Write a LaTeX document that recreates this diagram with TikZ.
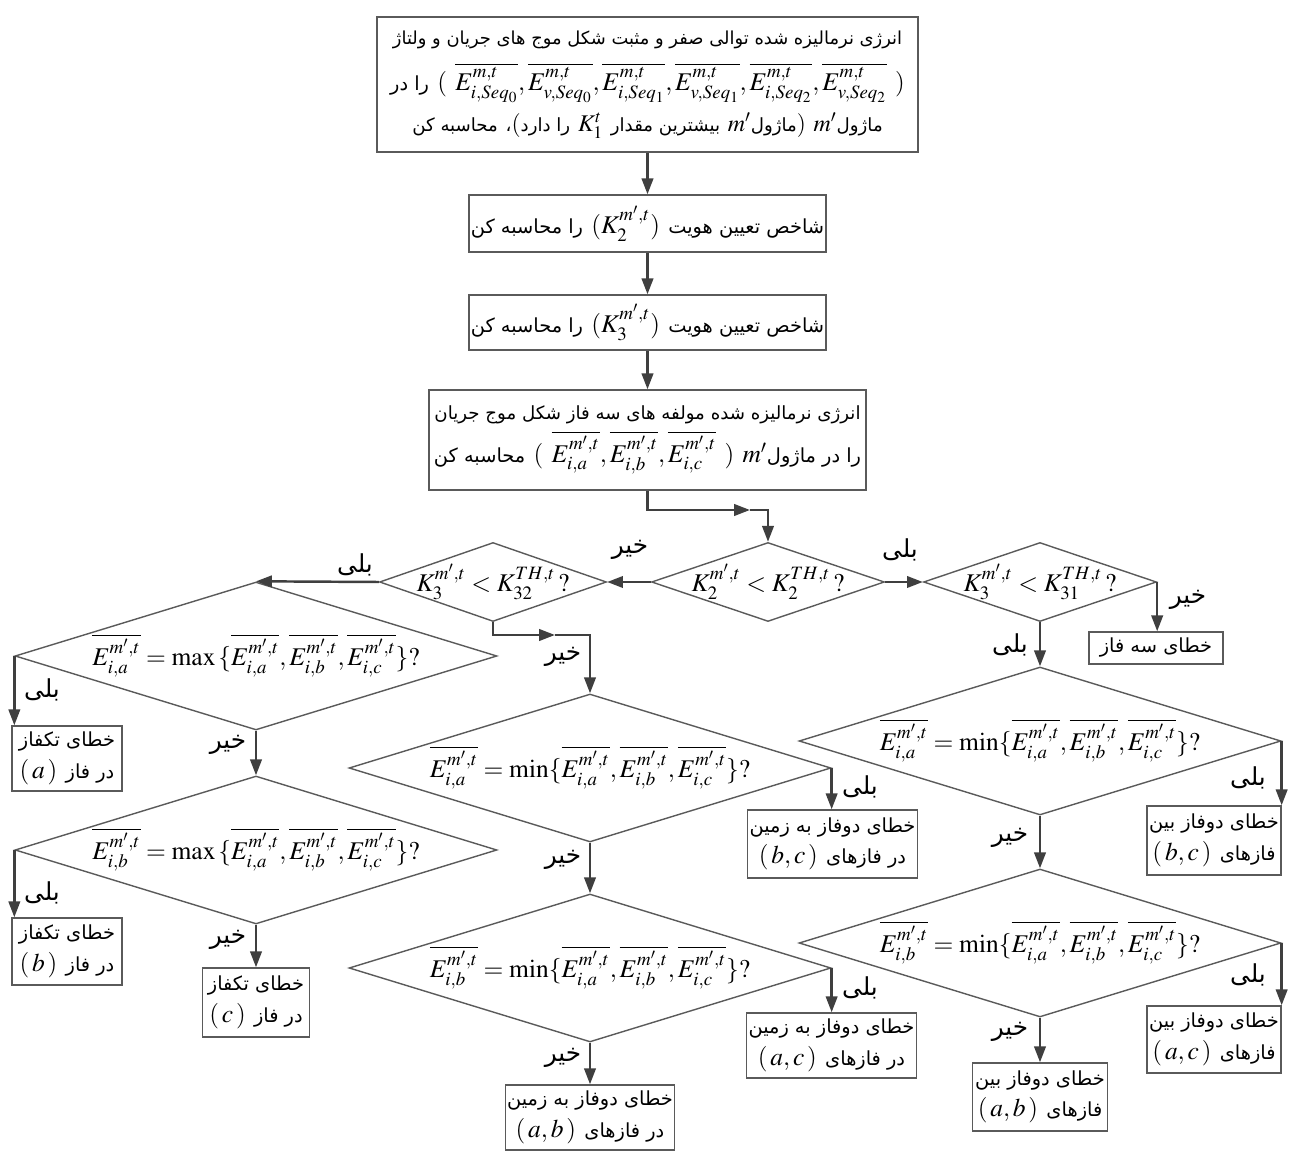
\documentclass[tikz,border=0pt]{standalone}
\usepackage{mathptmx}
\usepackage{fontspec}
\usetikzlibrary{arrows.meta, positioning, shapes.geometric}
\TeXXeTstate=1
\newfontfamily\farsi[Script=Arabic,Scale=0.76]{DejaVu Sans}
\newcommand{\fatext}[1]{{\farsi\beginR #1\endR}}
\newcommand{\Ebar}[1]{\overline{E^{m',t}_{i,#1}}}
\newcommand{\Eseq}[2]{\overline{E^{m,t}_{#1,Seq_{#2}}}}
\definecolor{boxgray}{HTML}{5A5A5A}
\definecolor{flowgray}{HTML}{3F3F3F}

\tikzset{
  procbox/.style={draw=boxgray, line width=0.8pt, align=center, inner xsep=1pt, inner ysep=2pt},
  decision/.style={diamond, draw=boxgray, line width=0.8pt, inner sep=0pt},
  smalldec/.style={decision, minimum width=4.66cm, minimum height=1.58cm},
  bigdec/.style={decision, minimum width=9.64cm, minimum height=2.96cm},
  flow/.style={draw=flowgray, line width=1.4pt, -{Triangle[length=9pt,width=6.5pt]}},
  answer/.style={inner sep=0pt, font=\fontsize{18.5}{20}\selectfont}
}

\begin{document}
\begin{tikzpicture}[x=0.02cm, y=-0.02cm, font=\fontsize{14.5}{16}\selectfont]
  \useasboundingbox (0,0) rectangle (1309,1151);

  % processing steps
  \node[procbox, minimum width=10.82cm, minimum height=2.70cm] (energy) at (647.5,84.5)
    {{\fontsize{13.4}{15}\selectfont\fatext{انرژی نرمالیزه شده توالی صفر و مثبت شکل موج های جریان و ولتاژ}}\\[7pt]
     \fatext{را در} ( $\Eseq{i}{0},\Eseq{v}{0},\Eseq{i}{1},\Eseq{v}{1},\Eseq{i}{2},\Eseq{v}{2}$ )\\[5pt]
     {\fontsize{13.6}{15}\selectfont\fatext{محاسبه کن} \fatext{،}(\fatext{را دارد} $K_1^t$ \fatext{بیشترین مقدار} $m'$\fatext{ماژول}) $m'$\fatext{ماژول}}};
  \node[procbox, minimum width=7.14cm, minimum height=1.14cm] (idxtwo) at (647.5,223.5)
    {\fatext{را محاسبه کن} ($K_2^{m',t}$) \fatext{شاخص تعیین هویت}};
  \node[procbox, minimum width=7.14cm, minimum height=1.10cm] (idxthree) at (647.5,322.5)
    {\fatext{را محاسبه کن} ($K_3^{m',t}$) \fatext{شاخص تعیین هویت}};
  \node[procbox, minimum width=8.74cm, minimum height=2.0cm] (phases) at (647.5,440)
    {{\fontsize{13.6}{15}\selectfont\fatext{انرژی نرمالیزه شده مولفه های سه فاز شکل موج جریان}}\\[3pt]
     \fatext{محاسبه کن} ( $\Ebar{a},\Ebar{b},\Ebar{c}$ ) $m'$\fatext{را در ماژول}};

  % threshold tests
  \node[smalldec, label=center:{$K_2^{m',t} < K_2^{TH,t}\,?$}] (k2test) at (768,582) {};
  \node[decision, minimum width=4.54cm, minimum height=1.58cm,
        label=center:{$K_3^{m',t} < K_{32}^{TH,t}\,?$}] (k32test) at (493,582) {};
  \node[smalldec, label=center:{$K_3^{m',t} < K_{31}^{TH,t}\,?$}] (k31test) at (1040,582) {};

  % phase comparisons
  \node[bigdec, label=center:{$\Ebar{a} = \max\,\{\Ebar{a},\Ebar{b},\Ebar{c}\}?$}] (maxa) at (256,656) {};
  \node[bigdec, label=center:{$\Ebar{b} = \max\,\{\Ebar{a},\Ebar{b},\Ebar{c}\}?$}] (maxb) at (256,850) {};
  \node[bigdec, label=center:{$\Ebar{a} = \min\{\Ebar{a},\Ebar{b},\Ebar{c}\}?$}] (mina) at (590,768) {};
  \node[bigdec, label=center:{$\Ebar{b} = \min\{\Ebar{a},\Ebar{b},\Ebar{c}\}?$}] (minb) at (590,968) {};
  \node[bigdec, label=center:{$\Ebar{a} = \min\{\Ebar{a},\Ebar{b},\Ebar{c}\}?$}] (minar) at (1040,741) {};
  \node[bigdec, label=center:{$\Ebar{b} = \min\{\Ebar{a},\Ebar{b},\Ebar{c}\}?$}] (minbr) at (1040,943) {};

  % fault types
  \node[procbox, minimum width=2.68cm, minimum height=0.64cm] (threeph) at (1156,648)
    {\fatext{خطای سه فاز}};
  \node[procbox, minimum width=2.2cm, minimum height=1.3cm] (slga) at (67,758.5)
    {\fatext{خطای تکفاز}\\[2pt] ($\,a\,$) \fatext{در فاز}};
  \node[procbox, minimum width=2.2cm, minimum height=1.34cm] (slgb) at (67,951.5)
    {\fatext{خطای تکفاز}\\[2pt] ($\,b\,$) \fatext{در فاز}};
  \node[procbox, minimum width=2.14cm, minimum height=1.38cm] (slgc) at (256,1002.5)
    {\fatext{خطای تکفاز}\\[2pt] ($\,c\,$) \fatext{در فاز}};
  \node[procbox, minimum width=3.3cm, minimum height=1.36cm] (llgbc) at (832.5,844)
    {\fatext{خطای دوفاز به زمین}\\[2pt] ($\,b,c\,$) \fatext{در فازهای}};
  \node[procbox, minimum width=3.34cm, minimum height=1.3cm] (llgac) at (831.5,1045.5)
    {\fatext{خطای دوفاز به زمین}\\[2pt] ($\,a,c\,$) \fatext{در فازهای}};
  \node[procbox, minimum width=3.34cm, minimum height=1.3cm] (llgab) at (590,1117.5)
    {\fatext{خطای دوفاز به زمین}\\[2pt] ($\,a,b\,$) \fatext{در فازهای}};
  \node[procbox, minimum width=2.68cm, minimum height=1.38cm] (llbc) at (1214,840.5)
    {\fatext{خطای دوفاز بین}\\[2pt] ($\,b,c\,$) \fatext{فازهای}};
  \node[procbox, minimum width=2.68cm, minimum height=1.34cm] (llac) at (1214,1039.5)
    {\fatext{خطای دوفاز بین}\\[2pt] ($\,a,c\,$) \fatext{فازهای}};
  \node[procbox, minimum width=2.7cm, minimum height=1.36cm] (llab) at (1040,1097)
    {\fatext{خطای دوفاز بین}\\[2pt] ($\,a,b\,$) \fatext{فازهای}};

  % connectors
  \draw[flow] (energy.south) -- (idxtwo.north);
  \draw[flow] (idxtwo.south) -- (idxthree.north);
  \draw[flow] (idxthree.south) -- (phases.north);
  \coordinate (turn1) at (750,510);
  \draw[flow] (phases.south) |- (turn1);
  \draw[flow] (turn1) -| (k2test.north);
  \draw[flow] (k2test.west) -- (k32test.east);
  \draw[flow] (k2test.east) -- (k31test.west);
  \draw[flow] (k32test.west) -- (maxa.north);
  \coordinate (turn2) at (555,635);
  \draw[flow] (k32test.south) |- (turn2);
  \draw[flow] (turn2) -| (mina.north);
  \draw[flow] (k31test.east) -- (k31test.east |- threeph.north);
  \draw[flow] (k31test.south) -- (minar.north);
  \draw[flow] (maxa.west) -- (maxa.west |- slga.north);
  \draw[flow] (maxa.south) -- (maxb.north);
  \draw[flow] (maxb.west) -- (maxb.west |- slgb.north);
  \draw[flow] (maxb.south) -- (slgc.north);
  \draw[flow] (mina.east) -- (mina.east |- llgbc.north);
  \draw[flow] (mina.south) -- (minb.north);
  \draw[flow] (minb.east) -- (minb.east |- llgac.north);
  \draw[flow] (minb.south) -- (llgab.north);
  \draw[flow] (minar.east) -- (minar.east |- llbc.north);
  \draw[flow] (minar.south) -- (minbr.north);
  \draw[flow] (minbr.east) -- (minbr.east |- llac.north);
  \draw[flow] (minbr.south) -- (llab.north);

  % yes / no labels
  \node[answer] (no1) at (630,550) {\fatext{خیر}};
  \node[answer] (yes1) at (900,550) {\fatext{بلی}};
  \node[answer] (yes2) at (355,565) {\fatext{بلی}};
  \node[answer] (no2) at (563,657) {\fatext{خیر}};
  \node[answer] (no3) at (1188,600) {\fatext{خیر}};
  \node[answer] (yes3) at (1010,645) {\fatext{بلی}};
  \node[answer] (yes4) at (42,690) {\fatext{بلی}};
  \node[answer] (no4) at (228,745) {\fatext{خیر}};
  \node[answer] (yes5) at (42,893) {\fatext{بلی}};
  \node[answer] (no5) at (228,940) {\fatext{خیر}};
  \node[answer] (yes6) at (860,787) {\fatext{بلی}};
  \node[answer] (no6) at (563,860) {\fatext{خیر}};
  \node[answer] (yes7) at (860,988) {\fatext{بلی}};
  \node[answer] (no7) at (563,1058) {\fatext{خیر}};
  \node[answer] (yes8) at (1248,778) {\fatext{بلی}};
  \node[answer] (no8) at (1010,838) {\fatext{خیر}};
  \node[answer] (yes9) at (1248,975) {\fatext{بلی}};
  \node[answer] (no9) at (1010,1032) {\fatext{خیر}};
\end{tikzpicture}
\end{document}
